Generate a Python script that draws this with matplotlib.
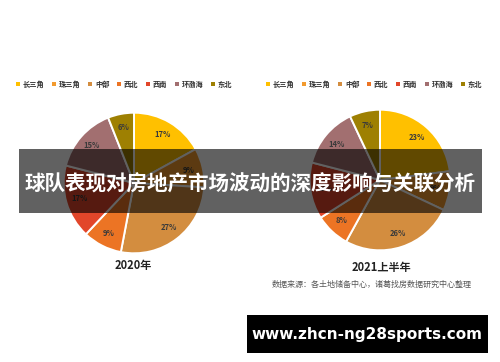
import matplotlib
matplotlib.use('Agg')
import matplotlib.pyplot as plt
from matplotlib.patches import Rectangle, Patch

plt.rcParams['font.family'] = ['Noto Sans CJK SC', 'DejaVu Sans']

# data
regions = ['长三角', '珠三角', '中部', '西北', '西南', '环渤海', '东北']
colors = ['#FFC000', '#F29A2E', '#D38D3F', '#EC7424', '#E2462A', '#A26F70', '#9E8002']
share_2020 = [17, 9, 27, 9, 17, 15, 6]
share_2021h1 = [23, 9, 26, 8, 13, 14, 7]
titles = ['2020年', '2021上半年']
banner = '球队表现对房地产市场波动的深度影响与关联分析'
source = '数据来源：各土地储备中心，诸葛找房数据研究中心整理'
site = 'www.zhcn-ng28sports.com'

W, H = 500, 362
fig = plt.figure(figsize=(W / 100, H / 100), dpi=100)
fig.patch.set_facecolor('white')


def px_axes(cx, cy, r):
    # axes box in pixel coords (top-left origin)
    return fig.add_axes([(cx - r) / W, (H - cy - r) / H, 2 * r / W, 2 * r / H])


centers = [(134, 183), (380, 180)]
legend_x = [124, 374]
year_pos = [(133, 266), (381, 267)]

for i, vals in enumerate([share_2020, share_2021h1]):
    cx, cy = centers[i]
    ax = px_axes(cx, cy, 71)
    ax.pie(vals, colors=colors, startangle=90, counterclock=False,
           autopct='%d%%', pctdistance=0.8, radius=1,
           wedgeprops=dict(edgecolor='white', linewidth=1.4),
           textprops=dict(fontsize=5.5, color='#3a3a3a', fontweight='bold'))
    ax.set_xlim(-1.01, 1.01)
    ax.set_ylim(-1.01, 1.01)
    ax.set_aspect('equal')
    ax.axis('off')

    handles = [Patch(facecolor=c, edgecolor='none') for c in colors]
    fig.legend(handles, regions, loc='center', ncol=7,
               bbox_to_anchor=(legend_x[i] / W, 1 - 84 / H),
               frameon=False, handlelength=0.55, handleheight=0.55,
               handletextpad=0.4, columnspacing=1.05,
               prop=dict(size=5.2, weight='bold'), labelcolor='#333333')

    fig.text(year_pos[i][0] / W, 1 - year_pos[i][1] / H, titles[i],
             ha='center', va='center', fontsize=8, color='#222222',
             fontweight='bold')

fig.text(372 / W, 1 - 284 / H, source, ha='center', va='center',
         fontsize=5.8, color='#555555', style='italic')

# dark banner across the middle
fig.add_artist(Rectangle((19 / W, 1 - 213 / H), 463 / W, 64 / H,
                         transform=fig.transFigure, facecolor='black',
                         alpha=0.62, edgecolor='none', zorder=5))
fig.text(250 / W, 1 - 184 / H, banner, ha='center', va='center',
         fontsize=14.8, color='white', fontweight='bold', zorder=6)

# site box bottom right
fig.add_artist(Rectangle((247 / W, 1 - 353 / H), 241 / W, 38 / H,
                         transform=fig.transFigure, facecolor='black',
                         edgecolor='none', zorder=5))
fig.text(367 / W, 1 - 334 / H, site, ha='center', va='center',
         fontsize=11, color='white', fontweight='bold', zorder=6,
         family='DejaVu Sans')

fig.savefig('out.png', dpi=100)
